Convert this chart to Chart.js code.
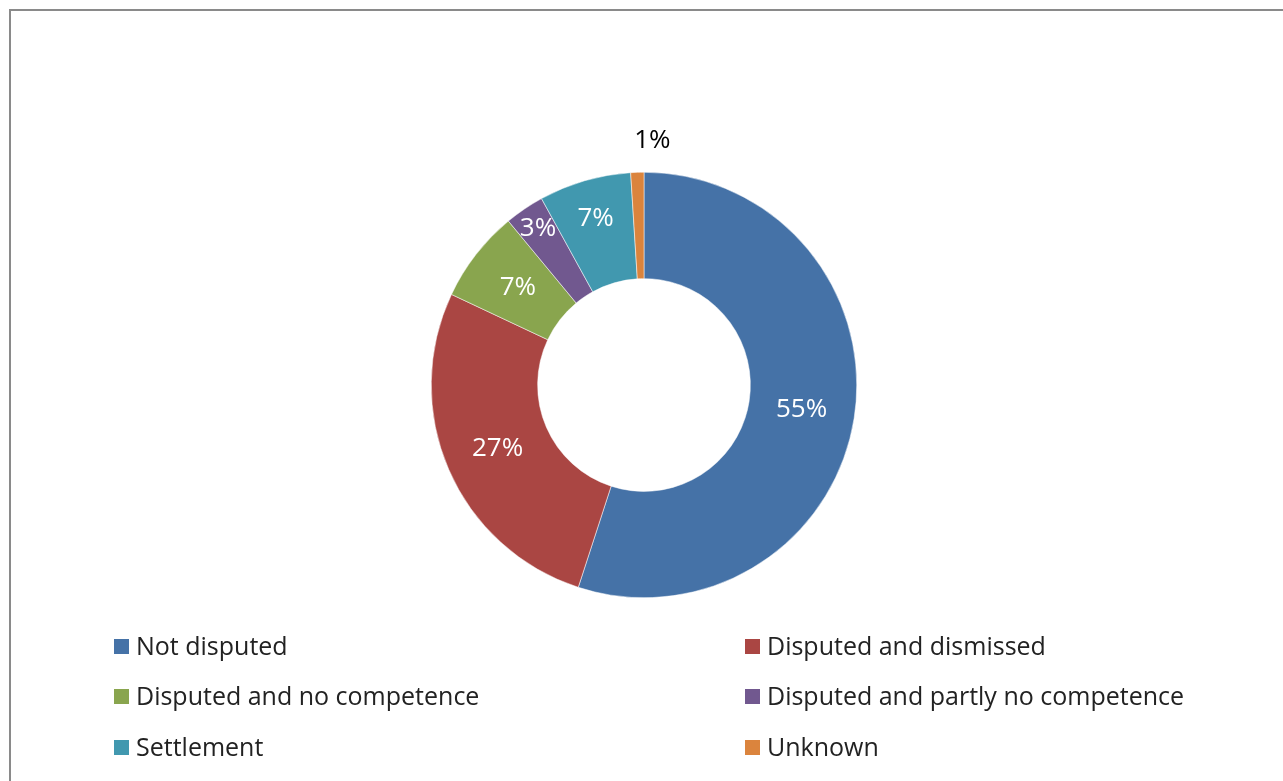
<!DOCTYPE html>
<html>
<head>
<meta charset="utf-8">
<script src="https://cdn.jsdelivr.net/npm/chart.js@4"></script>
<style>
  body { margin: 0; background: #fff; overflow: hidden; font-family: "Open Sans", Lato, sans-serif; }
  #frame { position: absolute; left: 9px; top: 9px; width: 1300px; height: 800px; border-left: 2px solid #8a8a8a; border-top: 2px solid #8a8a8a; }
  #wrap { position: absolute; left: 0; top: 0; width: 1283px; height: 781px; }
  .leg { position: absolute; font-size: 25px; color: #222; white-space: nowrap; line-height: 30px; }
  .leg span.box { display: inline-block; width: 15px; height: 15px; margin-right: 7px; vertical-align: 1px; }
</style>
</head>
<body>
<div id="frame"></div>
<div id="wrap"><canvas id="myChart" width="1283" height="781"></canvas></div>
<div id="legend"></div>
<script>
// categorias e valores (percentagens)
const categorias = ['Not disputed', 'Disputed and dismissed', 'Disputed and no competence',
    'Disputed and partly no competence', 'Settlement', 'Unknown'];
const valores = [55, 27, 7, 3, 7, 1];
const rotulos = ['55%', '27%', '7%', '3%', '7%', '1%'];
const cores = ['#4572A7', '#AA4643', '#89A54E', '#71588F', '#4198AF', '#DB843D'];

// legenda em duas colunas
const legendPos = [[114, 630], [745, 630], [114, 680], [745, 680], [114, 731], [745, 731]];
const legend = document.getElementById('legend');
categorias.forEach((c, i) => {
    const d = document.createElement('div');
    d.className = 'leg';
    d.style.left = legendPos[i][0] + 'px';
    d.style.top = legendPos[i][1] + 'px';
    d.innerHTML = '<span class="box" style="background:' + cores[i] + '"></span>' + c;
    legend.appendChild(d);
});

// plugin simples para os rótulos das fatias
const rotulosPlugin = {
    id: 'rotulos',
    afterDatasetsDraw(chart) {
        const ctx = chart.ctx;
        const meta = chart.getDatasetMeta(0);
        ctx.save();
        ctx.font = '26px "Open Sans", Lato, sans-serif';
        ctx.textAlign = 'center';
        ctx.textBaseline = 'middle';
        meta.data.forEach((arc, i) => {
            const mid = (arc.startAngle + arc.endAngle) / 2;
            let r = (arc.innerRadius + arc.outerRadius) / 2;
            let dx = 0;
            let cor = '#fff';
            if (i === 3) r += 29; // 3% empurrado para fora
            if (i === 4) r += 14;
            if (i === 5) { r = arc.outerRadius + 32; dx = 16; cor = '#000'; }
            const x = arc.x + Math.cos(mid) * r + dx;
            const y = arc.y + Math.sin(mid) * r;
            ctx.fillStyle = cor;
            ctx.fillText(rotulos[i], x, y);
        });
        ctx.restore();
    }
};

const ctx = document.getElementById('myChart').getContext('2d');
const myChart = new Chart(ctx, {
    type: 'doughnut',
    data: {
        labels: categorias,
        datasets: [{
            data: valores,
            backgroundColor: cores,
            borderColor: '#ffffff',
            borderWidth: 0.5
        }]
    },
    options: {
        responsive: false,
        animation: false,
        cutout: '50%',
        layout: {
            padding: { top: 172, bottom: 183, left: 431, right: 426 }
        },
        plugins: {
            legend: { display: false },
            tooltip: { enabled: false }
        }
    },
    plugins: [rotulosPlugin]
});
</script>
</body>
</html>
